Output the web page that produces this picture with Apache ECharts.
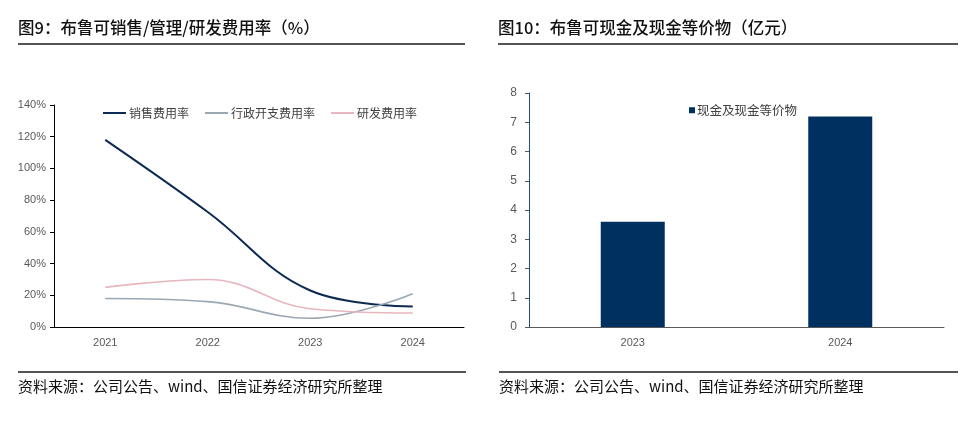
<!DOCTYPE html>
<html><head><meta charset="utf-8">
<script src="https://cdn.jsdelivr.net/npm/echarts@6/dist/echarts.min.js"></script>
<style>html,body{margin:0;padding:0;background:#fff}#c{width:979px;height:432px}</style>
</head><body><div id="c"></div>
<script>
const years1 = ['2021','2022','2023','2024'];
const salesRate = [118, 72.5, 23, 13];
const adminRate = [18, 16, 5.5, 21];
const rdRate = [25, 30, 11.5, 8.8];
const years2 = ['2023','2024'];
const cash = [3.6, 7.2];
const title1 = '图9：布鲁可销售/管理/研发费用率（%）';
const title2 = '图10：布鲁可现金及现金等价物（亿元）';
const source = '资料来源：公司公告、wind、国信证券经济研究所整理';

const chart = echarts.init(document.getElementById('c'), null, {renderer:'canvas'});
const cjk = '"Noto Sans CJK SC", sans-serif';
const tickLbl = {color:'#595959', fontSize:11, fontFamily:'Arial, "Liberation Sans", sans-serif'};
chart.setOption({
  animation:false,
  textStyle:{fontFamily:cjk},
  graphic:[
    {type:'text', left:18, top:19, style:{text:title1, font:'500 16.5px "Noto Sans CJK SC"', fill:'#111'}},
    {type:'text', left:498, top:19, style:{text:title2, font:'500 16.5px "Noto Sans CJK SC"', fill:'#111'}},
    {type:'rect', shape:{x:18, y:43, width:447, height:2}, style:{fill:'#555'}},
    {type:'rect', shape:{x:498, y:43, width:460, height:2}, style:{fill:'#555'}},
    {type:'rect', shape:{x:18, y:371, width:448, height:2}, style:{fill:'#555'}},
    {type:'rect', shape:{x:499, y:371, width:459, height:2}, style:{fill:'#555'}},
    {type:'text', left:18, top:379, style:{text:source, font:'15px "Noto Sans CJK SC"', fill:'#111'}},
    {type:'text', left:499, top:379, style:{text:source, font:'15px "Noto Sans CJK SC"', fill:'#111'}}
  ],
  legend:[
    {left:98, top:102, itemWidth:23, itemHeight:2, itemGap:16, icon:'rect',
     textStyle:{color:'#404040', fontSize:12, fontFamily:cjk, padding:[0,0,0,-2]},
     data:['销售费用率','行政开支费用率','研发费用率']},
    {left:684, top:99, itemWidth:6, itemHeight:6, itemGap:10, icon:'rect',
     textStyle:{color:'#404040', fontSize:12.5, fontFamily:cjk, padding:[0,0,0,-3]},
     data:['现金及现金等价物']}
  ],
  grid:[
    {left:54, right:515, top:105, bottom:105},
    {left:529, right:35, top:93, bottom:105}
  ],
  xAxis:[
    {gridIndex:0, type:'category', data:years1, boundaryGap:true,
     axisLine:{lineStyle:{color:'#000', width:1}}, axisTick:{length:4, lineStyle:{color:'#000'}},
     axisLabel:Object.assign({margin:10}, tickLbl)},
    {gridIndex:1, type:'category', data:years2, boundaryGap:true,
     axisLine:{lineStyle:{color:'#595959', width:1}}, axisTick:{length:4, lineStyle:{color:'#595959'}},
     axisLabel:Object.assign({margin:10}, tickLbl)}
  ],
  yAxis:[
    {gridIndex:0, type:'value', min:0, max:140, interval:20,
     axisLine:{show:true, lineStyle:{color:'#000'}}, axisTick:{show:true, length:4, lineStyle:{color:'#000'}},
     splitLine:{show:false}, axisLabel:Object.assign({formatter:'{value}%', margin:8}, tickLbl)},
    {gridIndex:1, type:'value', min:0, max:8, interval:1,
     axisLine:{show:true, lineStyle:{color:'#1f4e79'}}, axisTick:{show:true, length:4, lineStyle:{color:'#595959'}},
     splitLine:{show:false}, axisLabel:Object.assign({margin:12}, tickLbl, {fontSize:12})}
  ],
  series:[
    {name:'销售费用率', type:'line', xAxisIndex:0, yAxisIndex:0, data:salesRate, smooth:0.4,
     showSymbol:false, lineStyle:{color:'#0c2a52', width:2}, itemStyle:{color:'#0c2a52'}},
    {name:'行政开支费用率', type:'line', xAxisIndex:0, yAxisIndex:0, data:adminRate, smooth:0.4,
     showSymbol:false, lineStyle:{color:'#9aa8b4', width:1.6}, itemStyle:{color:'#9aa8b4'}},
    {name:'研发费用率', type:'line', xAxisIndex:0, yAxisIndex:0, data:rdRate, smooth:0.4,
     showSymbol:false, lineStyle:{color:'#e8b6be', width:1.6}, itemStyle:{color:'#e8b6be'}},
    {name:'现金及现金等价物', type:'bar', xAxisIndex:1, yAxisIndex:1, data:cash, barWidth:64,
     itemStyle:{color:'#003060'}}
  ]
});
</script></body></html>
